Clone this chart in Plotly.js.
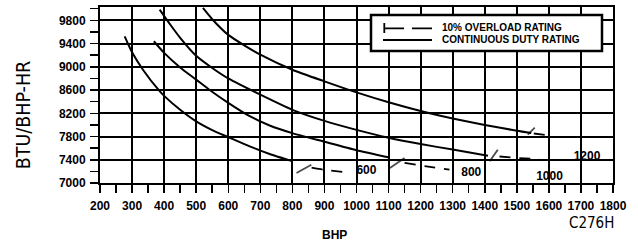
<!DOCTYPE html>
<html>
<head>
<meta charset="utf-8">
<script src="https://cdn.plot.ly/plotly-3.0.1.min.js"></script>
<style>
html,body{margin:0;padding:0;background:#fff;}
#chart{width:638px;height:243px;}
</style>
</head>
<body>
<div id="chart"></div>
<script>
// ---- data (BHP vs BTU/BHP-HR) ----
const rpmLabels = ['600', '800', '1000', '1200'];

// continuous duty rating (solid)
const bhp600  = [277, 300, 334, 386, 400, 450, 500, 550, 600, 667, 729, 802];
const btu600  = [9525, 9250, 8950, 8580, 8500, 8260, 8060, 7910, 7790, 7630, 7500, 7372];
const bhp800  = [368, 400, 450, 500, 540, 600, 667, 729, 802, 900, 1000, 1103];
const btu800  = [9440, 9240, 8990, 8780, 8610, 8380, 8150, 7990, 7855, 7710, 7565, 7440];
const bhp1000 = [386, 420, 450, 500, 550, 600, 700, 800, 900, 1000, 1100, 1200, 1300, 1410];
const btu1000 = [9984, 9720, 9500, 9190, 8980, 8800, 8520, 8260, 8070, 7915, 7780, 7670, 7575, 7470];
const bhp1200 = [521, 550, 600, 650, 700, 800, 900, 1000, 1100, 1200, 1300, 1400, 1500, 1545];
const btu1200 = [10013, 9820, 9550, 9370, 9210, 8950, 8750, 8560, 8390, 8240, 8110, 8000, 7900, 7860];

// 10% overload rating (dashed)
const bhp600ovl  = [860, 896, 958];
const btu600ovl  = [7263, 7230, 7190];
const bhp800ovl  = [1150, 1218, 1290];
const btu800ovl  = [7345, 7286, 7229];
const bhp1000ovl = [1446, 1500, 1571];
const btu1000ovl = [7456, 7432, 7410];
const bhp1200ovl = [1553, 1610];
const btu1200ovl = [7852, 7812];

// slash marks where the overload rating begins
const slashBhp = [836, 1127, 1428, 1545];
const slashBtu = [7243, 7344, 7473, 7894];

// curve labels (engine RPM)
const labelBhp = [1031, 1358, 1602, 1719];
const labelBtu = [7212, 7177, 7100, 7453];

// ---- styles ----
const BLACK = '#000000';
const boldFont = {family: 'Liberation Sans, Arial, Helvetica, sans-serif', size: 12, color: BLACK, weight: 'bold'};
const narrowFont = 'DejaVu Sans Condensed';

function solid(x, y) {
  return {x: x, y: y, type: 'scatter', mode: 'lines', showlegend: false, hoverinfo: 'skip',
          line: {color: BLACK, width: 2, shape: 'spline', smoothing: 0.6}};
}
function dashed(x, y) {
  return {x: x, y: y, type: 'scatter', mode: 'lines', showlegend: false, hoverinfo: 'skip',
          line: {color: BLACK, width: 1.8, dash: '11px,9px', shape: 'spline', smoothing: 0.6}};
}

const traces = [
  solid(bhp600, btu600), solid(bhp800, btu800), solid(bhp1000, btu1000), solid(bhp1200, btu1200),
  dashed(bhp600ovl, btu600ovl), dashed(bhp800ovl, btu800ovl), dashed(bhp1000ovl, btu1000ovl), dashed(bhp1200ovl, btu1200ovl),
  {x: slashBhp, y: slashBtu, type: 'scatter', mode: 'markers', showlegend: false, hoverinfo: 'skip', cliponaxis: false,
   marker: {symbol: 'line-ne', size: [12, 12.5, 10, 7], angle: [16, 11, -10, 0], color: BLACK,
            line: {color: BLACK, width: 1.8}}},
  {x: labelBhp, y: labelBtu, text: rpmLabels, type: 'scatter', mode: 'text', showlegend: false, hoverinfo: 'skip',
   cliponaxis: false, textposition: 'middle center', textfont: boldFont}
];

function px2paperX(px) { return (px - 100) / 513; }
function px2paperY(py) { return 1 - (py - 7) / 176; }

const layout = {
  width: 638, height: 243,
  margin: {l: 100, r: 25, t: 7, b: 60, pad: 0},
  paper_bgcolor: '#ffffff', plot_bgcolor: '#ffffff',
  showlegend: false,
  xaxis: {
    range: [200, 1800], tick0: 200, dtick: 100, fixedrange: true, tickformat: 'd',
    showgrid: true, gridcolor: BLACK, gridwidth: 2, zeroline: false,
    showline: true, linecolor: BLACK, linewidth: 2, mirror: true,
    ticks: 'outside', ticklen: 8, tickwidth: 1.5, tickcolor: BLACK,
    tickfont: boldFont, ticklabelstandoff: 3,
    minor: {dtick: 50, ticks: 'outside', ticklen: 8, tickwidth: 1.5, tickcolor: BLACK, showgrid: false}
  },
  yaxis: {
    range: [7000, 10030], tick0: 7000, dtick: 400, fixedrange: true, tickformat: 'd',
    showgrid: true, gridcolor: BLACK, gridwidth: 2, zeroline: false,
    showline: true, linecolor: BLACK, linewidth: 2, mirror: true,
    ticks: 'outside', ticklen: 8, tickwidth: 1.5, tickcolor: BLACK,
    tickfont: boldFont, ticklabelstandoff: 2,
    minor: {dtick: 200, ticks: 'outside', ticklen: 8, tickwidth: 1.5, tickcolor: BLACK, showgrid: false}
  },
  shapes: [
    {type: 'rect', xref: 'paper', yref: 'paper', x0: px2paperX(371), x1: px2paperX(602), y0: px2paperY(51), y1: px2paperY(15),
     fillcolor: '#ffffff', line: {color: BLACK, width: 2.5}, layer: 'above'},
    {type: 'line', xref: 'paper', yref: 'paper', x0: px2paperX(384), x1: px2paperX(433), y0: px2paperY(28.3), y1: px2paperY(28.3),
     line: {color: BLACK, width: 1.8, dash: '20px,8px'}, layer: 'above'},
    {type: 'line', xref: 'paper', yref: 'paper', x0: px2paperX(384.3), x1: px2paperX(384.3), y0: px2paperY(33), y1: px2paperY(23),
     line: {color: BLACK, width: 1.8}, layer: 'above'},
    {type: 'line', xref: 'paper', yref: 'paper', x0: px2paperX(383), x1: px2paperX(432), y0: px2paperY(40), y1: px2paperY(40),
     line: {color: BLACK, width: 1.8}, layer: 'above'}
  ],
  annotations: [
    {xref: 'paper', yref: 'paper', x: px2paperX(441), y: px2paperY(27.5), xanchor: 'left', yanchor: 'middle',
     text: '10% OVERLOAD RATING', showarrow: false, borderpad: 0,
     font: {family: 'Liberation Sans, Arial, sans-serif', size: 10, color: BLACK, weight: 'bold'}},
    {xref: 'paper', yref: 'paper', x: px2paperX(441), y: px2paperY(39.8), xanchor: 'left', yanchor: 'middle',
     text: 'CONTINUOUS DUTY RATING', showarrow: false, borderpad: 0,
     font: {family: 'Liberation Sans, Arial, sans-serif', size: 10, color: BLACK, weight: 'bold'}},
    {xref: 'paper', yref: 'paper', x: px2paperX(23.3), y: px2paperY(115), xanchor: 'center', yanchor: 'middle',
     textangle: -90, text: 'BTU/BHP-HR', showarrow: false, borderpad: 0,
     font: {family: narrowFont, size: 19.5, color: BLACK}},
    {xref: 'paper', yref: 'paper', x: px2paperX(334), y: px2paperY(234.5), xanchor: 'center', yanchor: 'middle',
     text: 'BHP', showarrow: false, borderpad: 0,
     font: {family: 'Liberation Sans, Arial, sans-serif', size: 12, color: BLACK, weight: 'bold'}},
    {xref: 'paper', yref: 'paper', x: px2paperX(615), y: px2paperY(223), xanchor: 'right', yanchor: 'middle',
     text: 'C276H', showarrow: false, borderpad: 0,
     font: {family: narrowFont, size: 15, color: BLACK}}
  ]
};

Plotly.newPlot('chart', traces, layout, {staticPlot: true, displayModeBar: false});
</script>
</body>
</html>
